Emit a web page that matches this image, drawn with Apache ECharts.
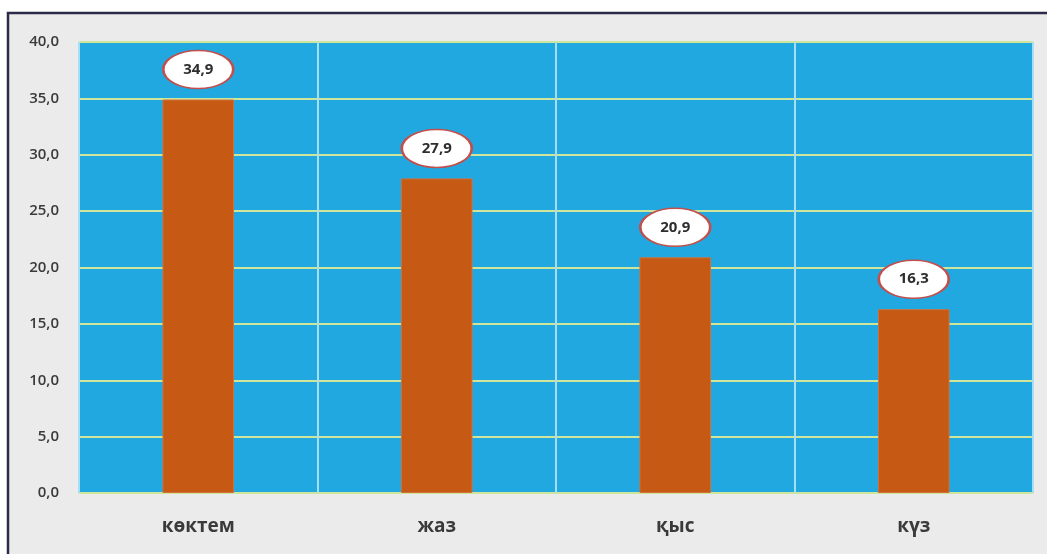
<!DOCTYPE html>
<html>
<head>
<meta charset="utf-8">
<script src="https://cdn.jsdelivr.net/npm/echarts@6/dist/echarts.min.js"></script>
<style>
html,body{margin:0;padding:0;background:#fff;}
#c{width:1047px;height:554px;}
</style>
</head>
<body>
<div id="c"></div>
<script>
const categories = ['көктем', 'жаз', 'қыс', 'күз'];
const values = [34.9, 27.9, 20.9, 16.3];
const yTicks = { min: 0, max: 40, interval: 5 };

const chart = echarts.init(document.getElementById('c'));
const fmt = v => v.toFixed(1).replace('.', ',');
const ellipse = 'path://M0,50 A50,50 0 1,1 100,50 A50,50 0 1,1 0,50 Z';

chart.setOption({
  backgroundColor: '#ffffff',
  animation: false,
  graphic: [{
    type: 'rect', z: -10, silent: true,
    shape: { x: 8, y: 13, width: 1060, height: 560 },
    style: { fill: '#ebebeb', stroke: '#2b2a48', lineWidth: 2.5 }
  }],
  grid: {
    left: 79, right: 14, top: 42, bottom: 61,
    show: true, backgroundColor: '#22a8e1', borderWidth: 0
  },
  xAxis: {
    type: 'category', data: categories,
    axisLine: { show: false }, axisTick: { show: false },
    axisLabel: { margin: 24, fontSize: 19, fontWeight: 'bold', color: '#3a3a3a', fontFamily: 'Open Sans' },
    splitLine: { show: true, lineStyle: { color: '#a6def6', width: 2 } }
  },
  yAxis: {
    type: 'value', min: yTicks.min, max: yTicks.max, interval: yTicks.interval,
    axisLine: { show: false }, axisTick: { show: false },
    axisLabel: { margin: 20, fontSize: 15, fontWeight: 600, color: '#3a3a3a', fontFamily: 'Open Sans', formatter: fmt },
    splitLine: { lineStyle: { color: '#cfe69a', width: 2 } }
  },
  series: [{
    type: 'bar', data: values, barWidth: '30%',
    itemStyle: { color: '#c65913', borderColor: '#d0703a', borderWidth: 1 },
    z: 2
  }, {
    type: 'scatter', data: values,
    symbol: ellipse, symbolSize: [70, 38], symbolOffset: [0, -30],
    itemStyle: { color: '#ffffff', borderColor: '#c0504d', borderWidth: 2, opacity: 1 },
    label: {
      show: true, position: 'inside',
      formatter: p => fmt(p.value), fontSize: 15, fontWeight: 'bold', color: '#2e2e2e', fontFamily: 'Open Sans'
    },
    z: 5
  }]
});
</script>
</body>
</html>
